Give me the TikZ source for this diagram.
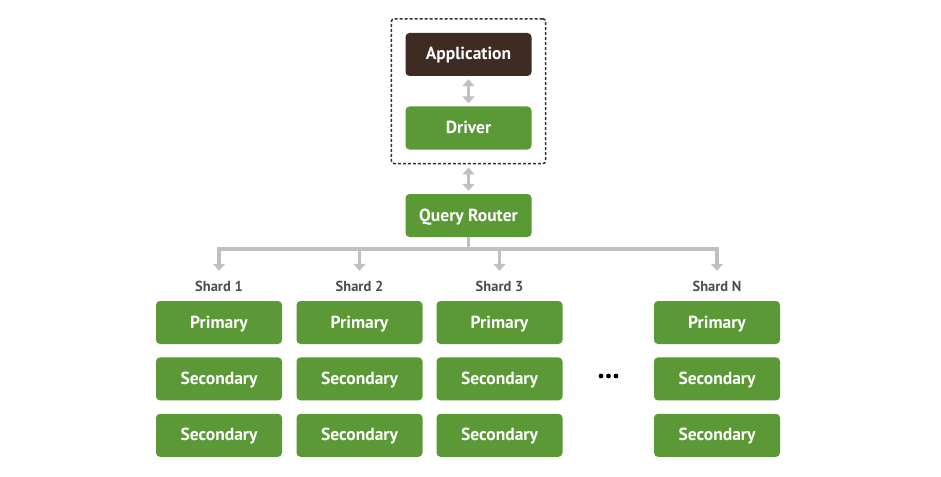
\documentclass[tikz,border=0pt]{standalone}
\usepackage{fontspec}
\setmainfont{PT Sans}
\usepackage{tikz}
\usetikzlibrary{calc}
\usetikzlibrary{positioning}
\usetikzlibrary{arrows.meta}
\usetikzlibrary{fit}
\definecolor{green}{RGB}{90,153,54}
\definecolor{brown}{RGB}{62,43,35}
\definecolor{gray}{RGB}{192,192,192}
\definecolor{label}{RGB}{78,78,78}

\begin{document}
\begin{tikzpicture}[x=1pt,y=-1pt,>={Triangle[width=12pt,length=7pt]},node distance=13pt,
  box/.style={rectangle,rounded corners=4pt,fill=green,text=white,inner sep=0pt,
    text height=12pt,text depth=1pt,
    minimum width=126pt,minimum height=43pt,font=\bfseries\fontsize{17.5}{17.5}\selectfont},
  shard/.style={text=label,inner sep=0pt,font=\bfseries\fontsize{14.5}{14.5}\selectfont},
  link/.style={gray,line width=3.5pt},
  frame/.style={draw=brown,line width=1.5pt,dash pattern=on 3pt off 2pt,rounded corners=3pt,inner sep=14pt}]

\useasboundingbox (0,0) rectangle (941,476);

\node[box,fill=brown] (app) at (468.5,54.5) {Application};
\node[box] (drv) at (468.5,128) {Driver};
\node[frame,fit=(app)(drv)] (grp) {};
\node[box] (qr) at (468.5,215.5) {Query Router};

\draw[link,<->,shorten <=3pt,shorten >=3pt] (app) -- (drv);
\draw[link,<->,shorten <=3pt,shorten >=3pt] (grp) -- (qr);

% shards
\node[box] (p1) at (219,322.5) {Primary};
\node[box] (p2) at (359.5,322.5) {Primary};
\node[box] (p3) at (499.5,322.5) {Primary};
\node[box] (pn) at (717,322.5) {Primary};

\node[box,below=of p1] (sa1) {Secondary};
\node[box,below=of p2] (sa2) {Secondary};
\node[box,below=of p3] (sa3) {Secondary};
\node[box,below=of pn] (san) {Secondary};

\node[box,below=of sa1] (sb1) {Secondary};
\node[box,below=of sa2] (sb2) {Secondary};
\node[box,below=of sa3] (sb3) {Secondary};
\node[box,below=of san] (sbn) {Secondary};

\node[shard,above=9pt of p1] (s1) {Shard 1};
\node[shard,above=9pt of p2] (s2) {Shard 2};
\node[shard,above=9pt of p3] (s3) {Shard 3};
\node[shard,above=9pt of pn] (sn) {Shard N};

\coordinate (bus) at (468.5,249);
\draw[link] (qr) -- (bus);
\draw[link,->,shorten >=10pt] (bus) -| (s1);
\draw[link,->,shorten >=10pt] (bus) -| (s2);
\draw[link,->,shorten >=10pt] (bus) -| (s3);
\draw[link,->,shorten >=10pt] (bus) -| (sn);

\fill[label] (601,376) circle (2.4pt) (608.5,376) circle (2.4pt) (616,376) circle (2.4pt);
\end{tikzpicture}
\end{document}
